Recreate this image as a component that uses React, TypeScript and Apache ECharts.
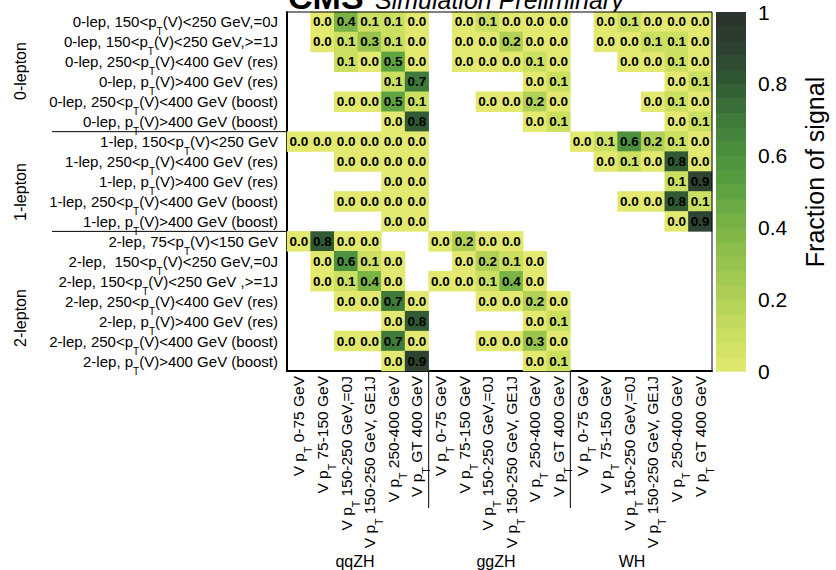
import React, { useEffect, useRef } from "react";
import * as echarts from "echarts";

// ---------- data ----------
const rowLabels = [
  "0-lep, 150<p_T(V)<250 GeV,=0J",
  "0-lep, 150<p_T(V)<250 GeV,>=1J",
  "0-lep, 250<p_T(V)<400 GeV (res)",
  "0-lep, p_T(V)>400 GeV (res)",
  "0-lep, 250<p_T(V)<400 GeV (boost)",
  "0-lep, p_T(V)>400 GeV (boost)",
  "1-lep, 150<p_T(V)<250 GeV",
  "1-lep, 250<p_T(V)<400 GeV (res)",
  "1-lep, p_T(V)>400 GeV (res)",
  "1-lep, 250<p_T(V)<400 GeV (boost)",
  "1-lep, p_T(V)>400 GeV (boost)",
  "2-lep, 75<p_T(V)<150 GeV",
  "2-lep,  150<p_T(V)<250 GeV,=0J",
  "2-lep, 150<p_T(V)<250 GeV ,>=1J",
  "2-lep, 250<p_T(V)<400 GeV (res)",
  "2-lep, p_T(V)>400 GeV (res)",
  "2-lep, 250<p_T(V)<400 GeV (boost)",
  "2-lep, p_T(V)>400 GeV (boost)",
];

const processes = ["qqZH", "ggZH", "WH"];
const ptBins = [
  "0-75 GeV",
  "75-150 GeV",
  "150-250 GeV,=0J",
  "150-250 GeV, GE1J",
  "250-400 GeV",
  "GT 400 GeV",
];

const _ = null;
const qqZH = [
  [_, 0.0, 0.4, 0.1, 0.1, 0.0],
  [_, 0.0, 0.1, 0.3, 0.1, 0.0],
  [_, _, 0.1, 0.0, 0.5, 0.0],
  [_, _, _, _, 0.1, 0.7],
  [_, _, 0.0, 0.0, 0.5, 0.1],
  [_, _, _, _, 0.0, 0.8],
  [0.0, 0.0, 0.0, 0.0, 0.0, 0.0],
  [_, _, 0.0, 0.0, 0.0, 0.0],
  [_, _, _, _, 0.0, 0.0],
  [_, _, 0.0, 0.0, 0.0, 0.0],
  [_, _, _, _, 0.0, 0.0],
  [0.0, 0.8, 0.0, 0.0, _, _],
  [_, 0.0, 0.6, 0.1, 0.0, _],
  [_, 0.0, 0.1, 0.4, 0.0, _],
  [_, _, 0.0, 0.0, 0.7, 0.0],
  [_, _, _, _, 0.0, 0.8],
  [_, _, 0.0, 0.0, 0.7, 0.0],
  [_, _, _, _, 0.0, 0.9],
];
const ggZH = [
  [_, 0.0, 0.1, 0.0, 0.0, 0.0],
  [_, 0.0, 0.0, 0.2, 0.0, 0.0],
  [_, 0.0, 0.0, 0.0, 0.1, 0.0],
  [_, _, _, _, 0.0, 0.1],
  [_, _, 0.0, 0.0, 0.2, 0.0],
  [_, _, _, _, 0.0, 0.1],
  [_, _, _, _, _, _],
  [_, _, _, _, _, _],
  [_, _, _, _, _, _],
  [_, _, _, _, _, _],
  [_, _, _, _, _, _],
  [0.0, 0.2, 0.0, 0.0, _, _],
  [_, 0.0, 0.2, 0.1, 0.0, _],
  [0.0, 0.0, 0.1, 0.4, 0.0, _],
  [_, _, 0.0, 0.0, 0.2, 0.0],
  [_, _, _, _, 0.0, 0.1],
  [_, _, 0.0, 0.0, 0.3, 0.0],
  [_, _, _, _, 0.0, 0.1],
];
const WH = [
  [_, 0.0, 0.1, 0.0, 0.0, 0.0],
  [_, 0.0, 0.0, 0.1, 0.1, 0.0],
  [_, _, 0.0, 0.0, 0.1, 0.0],
  [_, _, _, _, 0.0, 0.1],
  [_, _, _, 0.0, 0.1, 0.0],
  [_, _, _, _, 0.0, 0.1],
  [0.0, 0.1, 0.6, 0.2, 0.1, 0.0],
  [_, 0.0, 0.1, 0.0, 0.8, 0.0],
  [_, _, _, _, 0.1, 0.9],
  [_, _, 0.0, 0.0, 0.8, 0.1],
  [_, _, _, _, 0.0, 0.9],
  [_, _, _, _, _, _],
  [_, _, _, _, _, _],
  [_, _, _, _, _, _],
  [_, _, _, _, _, _],
  [_, _, _, _, _, _],
  [_, _, _, _, _, _],
  [_, _, _, _, _, _],
];
const processMatrices = [qqZH, ggZH, WH];

const groupLabels = ["0-lepton", "1-lepton", "2-lepton"];
const colorbarTicks = [0, 0.2, 0.4, 0.6, 0.8, 1];

// palette stops for 0, 0.1, ..., 1
const paletteStops = [
  "#e2e96e", "#cbdf60", "#b1d156", "#98c34d", "#7bb446", "#60a442",
  "#4c913e", "#3e7b3b", "#315a34", "#2d4230", "#2c302d",
];
const N_BANDS = 25;

// ---------- layout ----------
const W = 836;
const H = 570;
const GL = 287, GT = 12, GW = 425, GH = 359;
const CB_L = 716, CB_W = 30;
const FONT = "Liberation Sans, Arial, Helvetica, sans-serif";

const colKeys: string[] = [];
processes.forEach((p) => ptBins.forEach((b) => colKeys.push(p + "|" + b)));

const colorAt = (v: number) =>
  echarts.color.lerp(Math.max(0, Math.min(1, v)), paletteStops) as string;

const subRichY = {
  s: { fontSize: 10, lineHeight: 10, verticalAlign: "bottom", fontFamily: FONT, color: "#000" },
};
const subRichX = {
  s: { fontSize: 10.5, lineHeight: 10, verticalAlign: "bottom", fontFamily: FONT, color: "#000" },
};
const fmtPt = (s: string) => s.replace("p_T", "p{s|T}");

export default function App() {
  const ref = useRef<HTMLDivElement>(null);
  useEffect(() => {
    document.body.style.margin = "0";
    if (!ref.current) return;
    const chart = echarts.init(ref.current, null, { renderer: "svg" });

    const cells: number[][] = [];
    processMatrices.forEach((m, pi) => {
      m.forEach((row, ri) => {
        row.forEach((v, bi) => {
          if (v === null) return;
          cells.push([pi * ptBins.length + bi, ri, v]);
        });
      });
    });

    const bands: number[][] = [];
    for (let i = 0; i < N_BANDS; i++) bands.push([0, i / N_BANDS, (i + 1) / N_BANDS]);

    const rowH = GH / rowLabels.length;
    const colW = GW / colKeys.length;
    const groupBounds = [6, 11];
    const procBounds = [6, 12];

    const graphic: any[] = [
      {
        type: "text", x: GL + 1, y: -3,
        style: { text: "CMS", font: `bold 34px ${FONT}`, fill: "#000", verticalAlign: "middle", align: "left" },
      },
      {
        type: "text", x: 375, y: 0,
        style: { text: "Simulation Preliminary", font: `italic 25px ${FONT}`, fill: "#000", verticalAlign: "middle", align: "left" },
      },
      {
        type: "text", x: 815, y: 172, rotation: Math.PI / 2,
        style: { text: "Fraction of signal", font: `25px ${FONT}`, fill: "#000", align: "center", verticalAlign: "middle" },
      },
      { type: "line", z: 100, shape: { x1: GL, y1: GT, x2: GL + GW, y2: GT }, style: { stroke: "#000", lineWidth: 1 } },
      { type: "line", z: 100, shape: { x1: GL + GW, y1: GT, x2: GL + GW, y2: GT + GH }, style: { stroke: "#000", lineWidth: 1 } },
    ];
    groupBounds.forEach((b) => {
      const y = GT + b * rowH;
      graphic.push({ type: "line", shape: { x1: 52, y1: y, x2: GL, y2: y }, style: { stroke: "#000", lineWidth: 1 } });
    });
    procBounds.forEach((b) => {
      const x = GL + b * colW;
      graphic.push({ type: "line", shape: { x1: x, y1: GT + GH, x2: x, y2: 508 }, style: { stroke: "#000", lineWidth: 1 } });
    });
    const groupY = [71, 192, 318];
    groupLabels.forEach((g, i) => {
      graphic.push({
        type: "text", x: 20, y: groupY[i], rotation: Math.PI / 2,
        style: { text: g, font: `16px ${FONT}`, fill: "#000", align: "center", verticalAlign: "middle" },
      });
    });
    const procX = [355, 496, 632];
    processes.forEach((p, i) => {
      graphic.push({
        type: "text", x: procX[i], y: 561,
        style: { text: p, font: `16px ${FONT}`, fill: "#000", align: "center", verticalAlign: "middle" },
      });
    });

    chart.setOption({
      animation: false,
      textStyle: { fontFamily: FONT },
      grid: [
        { left: GL, top: GT, width: GW, height: GH, show: false },
        { left: CB_L, top: GT, width: CB_W, height: GH, show: false },
      ],
      visualMap: {
        type: "continuous", show: false, seriesIndex: 0, dimension: 2,
        min: 0, max: 1, inRange: { color: paletteStops },
      },
      xAxis: [
        {
          type: "category", gridIndex: 0, data: colKeys, position: "bottom",
          axisLine: { lineStyle: { color: "#000", width: 2 } },
          axisTick: { inside: true, length: 6, lineStyle: { color: "#000" } },
          splitLine: { show: false },
          axisLabel: {
            rotate: 90, interval: 0, fontSize: 15.5, color: "#000", margin: 5,
            lineHeight: 30, fontFamily: FONT,
            formatter: (v: string) => "V p{s|T} " + v.split("|")[1],
            rich: subRichX,
          },
        },
        { type: "category", gridIndex: 1, data: ["cb"], show: false },
      ],
      yAxis: [
        {
          type: "category", gridIndex: 0, data: rowLabels, inverse: true,
          axisLine: { lineStyle: { color: "#000", width: 2 } },
          axisTick: { inside: true, length: 8, lineStyle: { color: "#000" } },
          splitLine: { show: false },
          axisLabel: {
            interval: 0, fontSize: 15, color: "#000", margin: 9, lineHeight: 30, fontFamily: FONT,
            formatter: (v: string) => fmtPt(v),
            rich: subRichY,
          },
        },
        {
          type: "value", gridIndex: 1, min: colorbarTicks[0], max: colorbarTicks[colorbarTicks.length - 1],
          interval: 0.2, position: "right",
          axisLine: { show: false }, axisTick: { show: false }, splitLine: { show: false },
          axisLabel: { fontSize: 21, color: "#000", margin: 12, fontFamily: FONT },
        },
      ],
      series: [
        {
          type: "heatmap", xAxisIndex: 0, yAxisIndex: 0, data: cells,
          label: {
            show: true, color: "#000", fontWeight: "bold", fontSize: 13.5, fontFamily: FONT,
            formatter: (p: any) => (p.value[2] as number).toFixed(1),
          },
          emphasis: { disabled: true },
        },
        {
          type: "custom", xAxisIndex: 1, yAxisIndex: 1, data: bands,
          encode: { x: 0, y: [1, 2] },
          renderItem: (params: any, api: any) => {
            const lo = api.value(1), hi = api.value(2);
            const b = api.coord([0, lo]);
            const t = api.coord([0, hi]);
            const w = api.size([1, 0])[0];
            return {
              type: "rect",
              shape: { x: b[0] - w / 2, y: t[1], width: w, height: b[1] - t[1] + 0.6 },
              style: { fill: colorAt((lo + hi) / 2) },
            };
          },
        },
      ],
      graphic,
    });
    return () => chart.dispose();
  }, []);
  return <div ref={ref} style={{ width: W, height: H }} />;
}
